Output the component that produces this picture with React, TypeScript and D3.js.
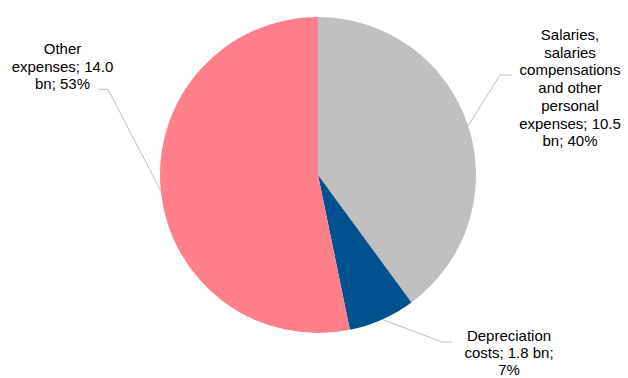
import React from "react";
import * as d3 from "d3";

const categories = ["Salaries, salaries compensations and other personal expenses", "Depreciation costs", "Other expenses"];
const values = [10.5, 1.8, 14.0];
const labelLines = [
  ["Salaries,", "salaries", "compensations", "and other", "personal", "expenses; 10.5", "bn; 40%"],
  ["Depreciation", "costs; 1.8 bn;", "7%"],
  ["Other", "expenses; 14.0", "bn; 53%"],
];
const colors = ["#C0C0C0", "#00528F", "#FF7F8B"];

// layout
const W = 628, H = 378;
const cx = 318, cy = 175, R = 158;
const labelPos = [
  { x: 570, y: 40 },
  { x: 509, y: 341 },
  { x: 62.5, y: 54 },
];
const elbows = [
  [[500, 75], [512, 75]],
  [[442, 342], [452, 342]],
  [[108, 89.3], [99, 89.3]],
];
const lineHs = [17.7, 17.2, 17.7];

export default function App() {
  const pie = d3.pie<number>().sort(null).value((d) => d)(values);
  const arc = d3.arc<d3.PieArcDatum<number>>().innerRadius(0).outerRadius(R);
  return (
    <svg width={W} height={H} style={{ position: "absolute", left: 0, top: 0 }}
      fontFamily="'Liberation Sans', Arial, sans-serif">
      <g transform={`translate(${cx},${cy})`}>
        {pie.map((p, i) => (
          <path key={i} d={arc(p) || ""} fill={colors[i]} />
        ))}
      </g>
      {pie.map((p, i) => {
        const a = (p.startAngle + p.endAngle) / 2;
        const ex = cx + R * Math.sin(a);
        const ey = cy - R * Math.cos(a);
        const pts = [[ex, ey], ...elbows[i]];
        return (
          <polyline key={"l" + i} points={pts.map((q) => q.join(",")).join(" ")}
            fill="none" stroke="#BFBFBF" strokeWidth={1} />
        );
      })}
      {labelLines.map((lines, i) => (
        <text key={"t" + i} x={labelPos[i].x} y={labelPos[i].y} textAnchor="middle"
          fontSize={15} fill="#000">
          {lines.map((ln, j) => (
            <tspan key={j} x={labelPos[i].x} y={labelPos[i].y + j * lineHs[i]}>{ln}</tspan>
          ))}
        </text>
      ))}
    </svg>
  );
}
